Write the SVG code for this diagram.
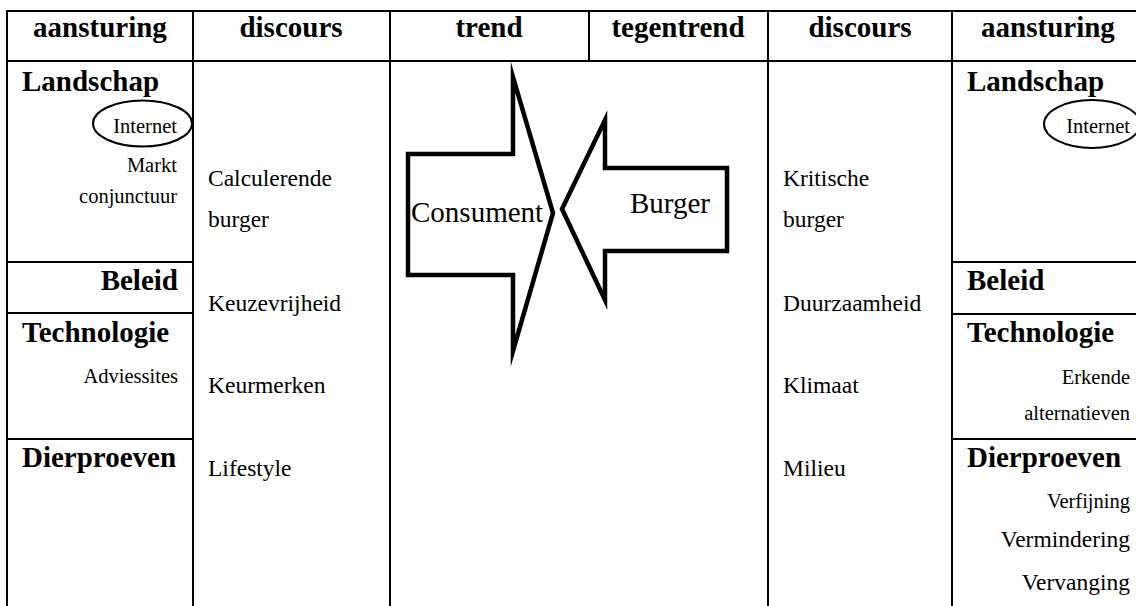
<svg xmlns="http://www.w3.org/2000/svg" width="1136" height="606" viewBox="0 0 1136 606">
  <style>
    .grid { stroke: #000; stroke-width: 2; fill: none; }
    .hdr { font-family: "Liberation Serif", "Times New Roman", serif; font-weight: bold; font-size: 29px; text-anchor: middle; fill: #000; }
    .cat { font-family: "Liberation Serif", "Times New Roman", serif; font-weight: bold; font-size: 29px; fill: #000; }
    .body { font-family: "Liberation Serif", "Times New Roman", serif; font-size: 23.5px; fill: #000; }
    .small { font-family: "Liberation Serif", "Times New Roman", serif; font-size: 20.5px; fill: #000; }
    .end { text-anchor: end; }
    .ring { fill: none; stroke: #000; stroke-width: 2; }
    .arrow { fill: #fff; stroke: #000; stroke-width: 4.5; stroke-linejoin: miter; stroke-miterlimit: 20; }
    .big { font-family: "Liberation Serif", "Times New Roman", serif; font-size: 29px; fill: #000; }
  </style>
  <rect width="1136" height="606" fill="#fff"/>

  <!-- table grid -->
  <g id="connectors" class="grid">
    <line x1="6" y1="11" x2="1136" y2="11"/>
    <line x1="6" y1="61" x2="1136" y2="61"/>
    <line x1="7" y1="10" x2="7" y2="606"/>
    <line x1="193" y1="10" x2="193" y2="606"/>
    <line x1="390" y1="10" x2="390" y2="606"/>
    <line x1="589" y1="10" x2="589" y2="61"/>
    <line x1="768" y1="10" x2="768" y2="606"/>
    <line x1="952" y1="10" x2="952" y2="606"/>
    <line x1="7" y1="262" x2="193" y2="262"/>
    <line x1="7" y1="313" x2="193" y2="313"/>
    <line x1="7" y1="439" x2="193" y2="439"/>
    <line x1="952" y1="262" x2="1136" y2="262"/>
    <line x1="952" y1="314" x2="1136" y2="314"/>
    <line x1="952" y1="439" x2="1136" y2="439"/>
  </g>

  <!-- column headers -->
  <g id="headers">
    <text class="hdr" x="100" y="37">aansturing</text>
    <text class="hdr" x="291" y="37">discours</text>
    <text class="hdr" x="489" y="37">trend</text>
    <text class="hdr" x="678" y="37">tegentrend</text>
    <text class="hdr" x="860" y="37">discours</text>
    <text class="hdr" x="1048" y="37">aansturing</text>
  </g>

  <!-- left steering column -->
  <g id="left-aansturing">
    <text class="cat" x="22" y="91">Landschap</text>
    <ellipse class="ring" cx="142.5" cy="123.5" rx="49.5" ry="23"/>
    <text class="small end" x="177" y="133">Internet</text>
    <text class="small end" x="177" y="172">Markt</text>
    <text class="small end" x="177" y="203">conjunctuur</text>
    <text class="cat end" x="178" y="290">Beleid</text>
    <text class="cat" x="22" y="342">Technologie</text>
    <text class="small end" x="178" y="383">Adviessites</text>
    <text class="cat" x="22" y="467">Dierproeven</text>
  </g>

  <!-- left discourse column -->
  <g id="left-discours">
    <text class="body" x="208" y="186">Calculerende</text>
    <text class="body" x="208" y="227">burger</text>
    <text class="body" x="208" y="311">Keuzevrijheid</text>
    <text class="body" x="208" y="393">Keurmerken</text>
    <text class="body" x="208" y="476">Lifestyle</text>
  </g>

  <!-- trend arrow -->
  <g id="trend-consument">
    <polygon class="arrow" points="408,154 513,154 513,77 553,213 513,351 513,275 408,275"/>
    <text class="big" x="411" y="222">Consument</text>
  </g>

  <!-- counter-trend arrow -->
  <g id="tegentrend-burger">
    <polygon class="arrow" points="562,209 605,120 605,168 727,168 727,251 605,251 605,300"/>
    <text class="big" x="630" y="213">Burger</text>
  </g>

  <!-- right discourse column -->
  <g id="right-discours">
    <text class="body" x="783" y="186">Kritische</text>
    <text class="body" x="783" y="227">burger</text>
    <text class="body" x="783" y="311">Duurzaamheid</text>
    <text class="body" x="783" y="393">Klimaat</text>
    <text class="body" x="783" y="476">Milieu</text>
  </g>

  <!-- right steering column -->
  <g id="right-aansturing">
    <text class="cat" x="967" y="91">Landschap</text>
    <ellipse class="ring" cx="1092" cy="124" rx="48" ry="24"/>
    <text class="small end" x="1130" y="133">Internet</text>
    <text class="cat" x="967" y="290">Beleid</text>
    <text class="cat" x="967" y="342">Technologie</text>
    <text class="small end" x="1130" y="384">Erkende</text>
    <text class="small end" x="1130" y="420">alternatieven</text>
    <text class="cat" x="967" y="467">Dierproeven</text>
    <text class="small end" x="1130" y="508">Verfijning</text>
    <text class="body end" x="1130" y="547">Vermindering</text>
    <text class="body end" x="1130" y="590">Vervanging</text>
  </g>
</svg>
